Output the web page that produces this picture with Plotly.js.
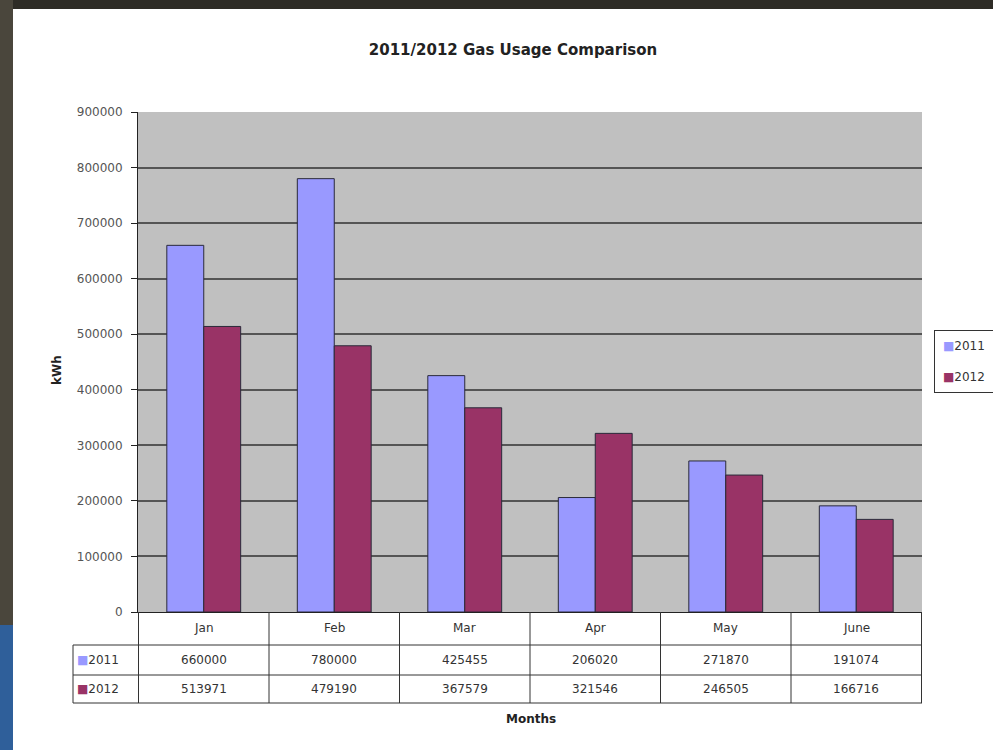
<!DOCTYPE html>
<html>
<head>
<meta charset="utf-8">
<script src="https://cdn.plot.ly/plotly-3.0.1.min.js"></script>
<style>html,body{margin:0;padding:0;background:#fff;}#chart{width:993px;height:750px;}</style>
</head>
<body>
<div id="chart"></div>
<script>
// ---- data ----
const months = ["Jan", "Feb", "Mar", "Apr", "May", "June"];
const seriesNames = ["2011", "2012"];
const usage2011 = [660000, 780000, 425455, 206020, 271870, 191074];
const usage2012 = [513971, 479190, 367579, 321546, 246505, 166716];
const seriesColors = ["#9999FF", "#993366"];
const chartTitle = "2011/2012 Gas Usage Comparison";
const xTitle = "Months";
const yTitle = "kWh";

// ---- helpers: pixel -> paper ----
const L = 138, R = 922, T = 112, B = 612, W = 993, H = 750;
const px = x => (x - L) / (R - L);
const py = y => (B - y) / (B - T);

const FONT = "DejaVu Sans, Liberation Sans, Arial, sans-serif";

const traces = [usage2011, usage2012].map((vals, i) => ({
  type: "bar",
  name: seriesNames[i],
  x: months,
  y: vals,
  showlegend: false,
  marker: { color: seriesColors[i], line: { color: "#2a2a3a", width: 1 } },
  hoverinfo: "x+y+name"
}));

const shapes = [];
const lineStyle = { color: "#333", width: 1 };
// dark photo frame
shapes.push({ type: "rect", xref: "paper", yref: "paper", x0: px(0), x1: px(W), y0: py(0), y1: py(9), fillcolor: "#2e2c26", line: { width: 0 }, layer: "above" });
shapes.push({ type: "rect", xref: "paper", yref: "paper", x0: px(0), x1: px(13), y0: py(0), y1: py(625), fillcolor: "#4a463c", line: { width: 0 }, layer: "above" });
shapes.push({ type: "rect", xref: "paper", yref: "paper", x0: px(0), x1: px(13), y0: py(625), y1: py(H), fillcolor: "#2f5f9a", line: { width: 0 }, layer: "above" });

// data table lines
const rowLines = [645, 675, 703];
rowLines.forEach(yy => shapes.push({ type: "line", xref: "paper", yref: "paper", x0: px(73), x1: 1, y0: py(yy), y1: py(yy), line: lineStyle }));
shapes.push({ type: "line", xref: "paper", yref: "paper", x0: px(73), x1: px(73), y0: py(645), y1: py(703), line: lineStyle });
for (let k = 0; k <= months.length; k++) {
  shapes.push({ type: "line", xref: "x", yref: "paper", x0: k - 0.5, x1: k - 0.5, y0: 0, y1: py(703), line: lineStyle });
}

const cellFont = { family: FONT, size: 12, color: "#333" };
const annotations = [];
months.forEach((m, i) => {
  annotations.push({ xref: "x", yref: "paper", x: i, y: py(628), yanchor: "middle", text: m, showarrow: false, font: cellFont });
  annotations.push({ xref: "x", yref: "paper", x: i, y: py(660), yanchor: "middle", text: String(usage2011[i]), showarrow: false, font: cellFont });
  annotations.push({ xref: "x", yref: "paper", x: i, y: py(689), yanchor: "middle", text: String(usage2012[i]), showarrow: false, font: cellFont });
});
seriesNames.forEach((s, i) => {
  annotations.push({ xref: "paper", yref: "paper", x: px(75), xanchor: "left", y: py(i === 0 ? 660 : 689), yanchor: "middle", showarrow: false,
    text: '<span style="color:' + seriesColors[i] + '">■</span>' + s, font: cellFont });
});
// legend (compact, like the reference)
annotations.push({ xref: "paper", yref: "paper", x: px(934), xanchor: "left", y: py(330), yanchor: "top", showarrow: false, align: "left",
  bgcolor: "#fff", bordercolor: "#333", borderwidth: 1, borderpad: 8,
  text: seriesNames.map((s, i) => '<span style="color:' + seriesColors[i] + '">■</span>' + s).join("<br><span style='font-size:10px'> </span><br>"),
  font: { family: FONT, size: 12, color: "#333" } });
annotations.push({ xref: "paper", yref: "paper", x: px(531), y: py(719), yanchor: "middle", text: "<b>" + xTitle + "</b>", showarrow: false, font: { family: FONT, size: 12, color: "#222" } });
annotations.push({ xref: "paper", yref: "paper", x: px(48), y: py(370), yanchor: "middle", text: "<b>" + yTitle + "</b>", textangle: -90, showarrow: false, font: { family: FONT, size: 12, color: "#222" } });

const layout = {
  width: W, height: H,
  margin: { l: L, r: W - R, t: T, b: H - B, autoexpand: false },
  paper_bgcolor: "#ffffff",
  plot_bgcolor: "#c0c0c0",
  title: { text: "<b>" + chartTitle + "</b>", xref: "paper", x: px(513), xanchor: "center", yref: "container", y: 1 - 50 / H, yanchor: "middle", font: { family: FONT, size: 15, color: "#222" } },
  bargap: 0.434, bargroupgap: 0, barmode: "group",
  showlegend: false,
  xaxis: { type: "category", showticklabels: false, showgrid: false, showline: true, linecolor: "#222", linewidth: 1, ticks: "", zeroline: false, fixedrange: true },
  yaxis: { range: [0, 900000], dtick: 100000, tick0: 0, showgrid: true, gridcolor: "#555", gridwidth: 2, zeroline: false,
    showline: true, linecolor: "#222", linewidth: 1, ticks: "outside", ticklen: 6, tickcolor: "#222", tickformat: "d",
    ticklabelstandoff: 6,
    tickfont: { family: FONT, size: 12, color: "#555" }, fixedrange: true },
  shapes: shapes,
  annotations: annotations
};

Plotly.newPlot("chart", traces, layout, { displayModeBar: false, staticPlot: true });
</script>
</body>
</html>
